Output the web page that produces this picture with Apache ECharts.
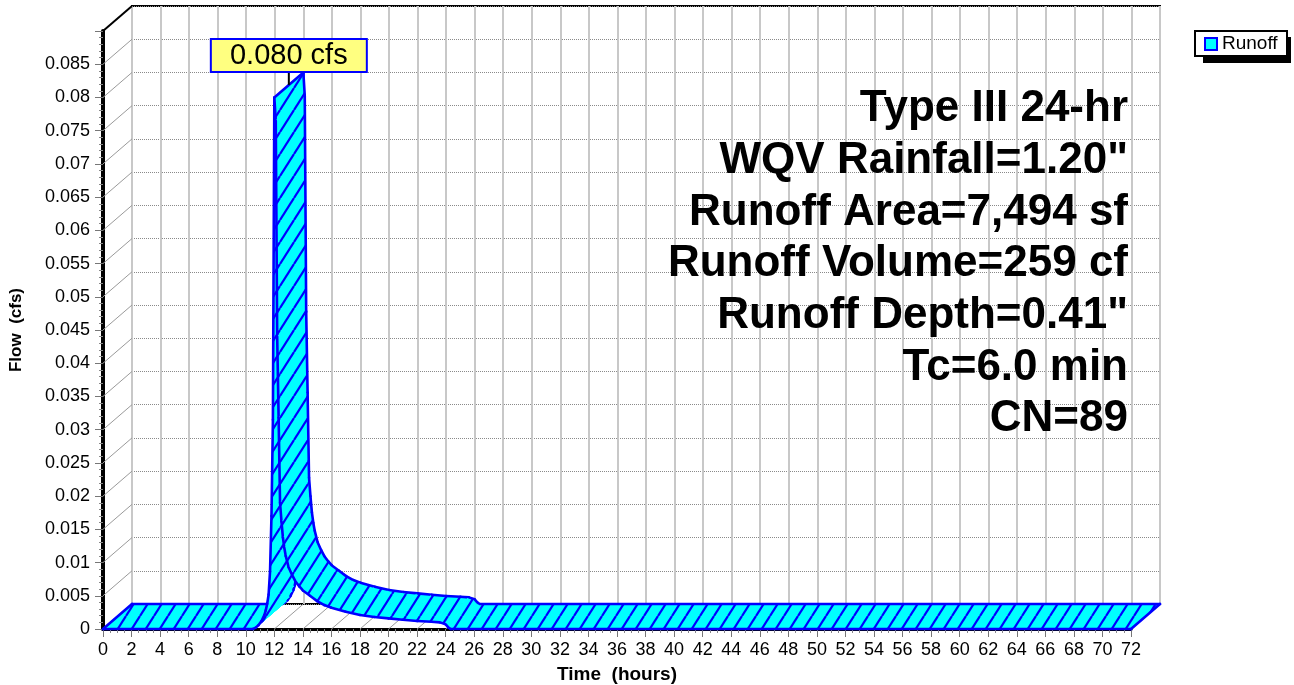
<!DOCTYPE html>
<html><head><meta charset="utf-8">
<script src="https://cdn.jsdelivr.net/npm/echarts@6/dist/echarts.min.js"></script>
<style>html,body{margin:0;padding:0;background:#fff}#chart{width:1294px;height:685px}</style>
</head><body><div id="chart"></div>
<script>
// ---- data ----
const seriesName = 'Runoff';
const flowUnit = 'cfs';
const times = [0, 10.5, 10.7, 10.9, 11.1, 11.3, 11.4, 11.5, 11.6, 11.7, 11.8, 11.9, 12.0, 12.1, 12.2, 12.3, 12.4, 12.5, 12.6, 12.7, 12.8, 13.0, 13.25, 13.5, 13.75, 14.0, 14.5, 15.0, 15.5, 16.0, 17.0, 18.0, 19.0, 20.0, 21.0, 22.0, 23.0, 23.6, 24.0, 24.2, 24.35, 72];
const flows = [0, 0, 0.0002, 0.0006, 0.0012, 0.0021, 0.0028, 0.0038, 0.0052, 0.0087, 0.0170, 0.0315, 0.0800, 0.0765, 0.0440, 0.0318, 0.0190, 0.0162, 0.0138, 0.0122, 0.0110, 0.0093, 0.0081, 0.0071, 0.0064, 0.0058, 0.0050, 0.0042, 0.0036, 0.0032, 0.0026, 0.0021, 0.0018, 0.0016, 0.0014, 0.0012, 0.0011, 0.0010, 0.0007, 0.0002, 0, 0];
const xTicks = [0,2,4,6,8,10,12,14,16,18,20,22,24,26,28,30,32,34,36,38,40,42,44,46,48,50,52,54,56,58,60,62,64,66,68,70,72];
const yTicks = [0,0.005,0.01,0.015,0.02,0.025,0.03,0.035,0.04,0.045,0.05,0.055,0.06,0.065,0.07,0.075,0.08,0.085];
const yMax = 0.09;
const xMax = 72;
const infoLines = ['Type III 24-hr', 'WQV Rainfall=1.20"', 'Runoff Area=7,494 sf', 'Runoff Volume=259 cf', 'Runoff Depth=0.41"', 'Tc=6.0 min', 'CN=89'];

// ---- style / layout ----
const FONT = '"Liberation Sans", Arial, sans-serif';
const DX = 29, DY = -25;   // 3D depth offset (pixels)
const BLUE = '#0000ff', CYAN = '#00ffff';

function makeHatch() {
  const W = 14, H = 22;
  const c = document.createElement('canvas');
  c.width = W; c.height = H;
  const g = c.getContext('2d');
  g.fillStyle = CYAN; g.fillRect(0, 0, W, H);
  g.strokeStyle = BLUE; g.lineWidth = 2.2;
  for (let k = -1; k <= 1; k++) {
    g.beginPath(); g.moveTo(k * W, H); g.lineTo(k * W + W, 0); g.stroke();
  }
  return c;
}
const hatch = { image: makeHatch(), repeat: 'repeat' };

let peakIdx = 0;
flows.forEach((v, i) => { if (v > flows[peakIdx]) peakIdx = i; });

const segs = [];
for (let i = 0; i < times.length - 1; i++) segs.push([times[i], flows[i], times[i + 1], flows[i + 1]]);
const lastSeg = segs.length - 1;

const chart = echarts.init(document.getElementById('chart'), null, { renderer: 'canvas' });

const frontTick = { show: true, length: 8, lineStyle: { color: '#777', width: 1 } };
const depthLine = (color, width) => (p, api) => {
  const a = api.coord([api.value(0), api.value(1)]);
  return { type: 'line', shape: { x1: a[0], y1: a[1], x2: a[0] + DX, y2: a[1] + DY }, style: { stroke: color, lineWidth: width } };
};

const option = {
  backgroundColor: '#fff',
  animation: false,
  textStyle: { fontFamily: FONT },
  grid: [
    { left: 103, top: 31, width: 1028, height: 598, show: false, containLabel: false, outerBoundsMode: 'none' },
    { left: 103 + DX, top: 31 + DY, width: 1028, height: 598, show: true, borderColor: '#000', borderWidth: 2, backgroundColor: '#fff', containLabel: false, outerBoundsMode: 'none' }
  ],
  xAxis: [
    { type: 'value', gridIndex: 0, min: 0, max: xMax, interval: 2,
      axisLine: { show: true, lineStyle: { color: '#000', width: 3 } },
      axisTick: frontTick,
      minorTick: { show: true, splitNumber: 4, length: 4, lineStyle: { color: '#888', width: 1 } },
      axisLabel: { fontSize: 18, color: '#000', margin: 12, fontFamily: FONT },
      splitLine: { show: false },
      name: 'Time  (hours)', nameLocation: 'middle', nameGap: 36,
      nameTextStyle: { fontSize: 19, fontWeight: 'bold', color: '#000', fontFamily: FONT } },
    { type: 'value', gridIndex: 1, min: 0, max: xMax, interval: 2,
      axisLine: { show: false }, axisTick: { show: false }, axisLabel: { show: false },
      splitLine: { show: true, lineStyle: { color: '#c8c8c8', width: 2 } } }
  ],
  yAxis: [
    { type: 'value', gridIndex: 0, min: 0, max: yMax, interval: 0.005,
      axisLine: { show: true, lineStyle: { color: '#000', width: 4 } },
      axisTick: frontTick,
      minorTick: { show: true, splitNumber: 5, length: 4, lineStyle: { color: '#888', width: 1 } },
      axisLabel: { fontSize: 18, color: '#000', margin: 13, showMaxLabel: false, fontFamily: FONT,
        formatter: v => String(+(+v).toFixed(3)) },
      splitLine: { show: false },
      name: 'Flow  (cfs)', nameLocation: 'middle', nameGap: 78, nameRotate: 90,
      nameTextStyle: { fontSize: 17, fontWeight: 'bold', color: '#000', fontFamily: FONT } },
    { type: 'value', gridIndex: 1, min: 0, max: yMax, interval: 0.005,
      axisLine: { show: false }, axisTick: { show: false }, axisLabel: { show: false },
      splitLine: { show: true, lineStyle: { color: '#8a8a8a', width: 1, type: 'dotted' } } }
  ],
  legend: {
    data: [{ name: seriesName, icon: 'rect', itemStyle: { color: CYAN, borderColor: BLUE, borderWidth: 2 } }],
    left: 1204, top: 34, itemWidth: 12, itemHeight: 12, itemGap: 0, itemTextGap: 9,
    padding: 0, selectedMode: false, z: 20,
    textStyle: { fontSize: 19, color: '#000', fontFamily: FONT, lineHeight: 20 }
  },
  graphic: [
    { type: 'rect', z: 15, silent: true, shape: { x: 1203, y: 37, width: 88, height: 26 }, style: { fill: '#000' } },
    { type: 'rect', z: 16, silent: true, shape: { x: 1195, y: 31, width: 92, height: 25 }, style: { fill: '#fff', stroke: '#000', lineWidth: 2 } }
  ].concat(infoLines.map((t, k) => ({
    type: 'text', x: 1128, y: 109 + 51.7 * k, z: 50, silent: true,
    style: { text: t, fill: '#000', font: 'bold 44px ' + FONT, align: 'right', verticalAlign: 'middle' }
  }))),
  series: [
    { type: 'custom', name: 'ydepth', xAxisIndex: 0, yAxisIndex: 0, z: 1, silent: true,
      data: yTicks.filter(v => v > 0).map(v => [0, v]), renderItem: depthLine('#9a9a9a', 1) },
    { type: 'custom', name: 'xdepth', xAxisIndex: 0, yAxisIndex: 0, z: 1, silent: true,
      data: xTicks.map(t => [t, 0]), renderItem: depthLine('#9a9a9a', 1) },
    { type: 'custom', name: 'frame', xAxisIndex: 0, yAxisIndex: 0, z: 1, silent: true,
      data: [[0, yMax]], renderItem: depthLine('#000', 2) },
    { // 3D ribbon hydrograph
      type: 'custom', name: seriesName, xAxisIndex: 0, yAxisIndex: 0, z: 3, silent: true,
      itemStyle: { color: CYAN },
      encode: { x: [0, 2], y: [1, 3] },
      data: segs,
      renderItem: (params, api) => {
        const i = params.dataIndex;
        const a = api.coord([api.value(0), api.value(1)]);
        const b = api.coord([api.value(2), api.value(3)]);
        const A = [a[0] + DX, a[1] + DY], B = [b[0] + DX, b[1] + DY];
        const edge = (p, q) => ({ type: 'line', shape: { x1: p[0], y1: p[1], x2: q[0], y2: q[1] },
          style: { stroke: BLUE, lineWidth: 2.6, lineCap: 'round' } });
        const ch = [
          { type: 'polygon', shape: { points: [a, b, B, A] }, style: { fill: hatch, stroke: hatch, lineWidth: 1 } },
          edge(a, b), edge(A, B)
        ];
        if (i === 0 || i === peakIdx) ch.push(edge(a, A));
        if (i === lastSeg) ch.push(edge(b, B));
        return { type: 'group', children: ch };
      }
    },
    { // peak label
      type: 'custom', name: 'peak', xAxisIndex: 0, yAxisIndex: 0, z: 10, silent: true,
      data: [[times[peakIdx], flows[peakIdx]]],
      renderItem: (p, api) => {
        const a = api.coord([api.value(0), api.value(1)]);
        const mx = a[0] + DX / 2, my = a[1] + DY / 2;
        const bw = 156, bh = 33, by = my - 13 - bh;
        return { type: 'group', children: [
          { type: 'line', shape: { x1: mx, y1: my, x2: mx, y2: by + bh }, style: { stroke: '#000', lineWidth: 2 } },
          { type: 'rect', shape: { x: mx - bw / 2, y: by, width: bw, height: bh }, style: { fill: '#ffff80', stroke: BLUE, lineWidth: 2 } },
          { type: 'text', x: mx, y: by + bh / 2 + 1, style: { text: (+api.value(1)).toFixed(3) + ' ' + flowUnit, fill: '#000', font: '29px ' + FONT, align: 'center', verticalAlign: 'middle' } }
        ] };
      }
    }
  ]
};
chart.setOption(option);
</script></body></html>
